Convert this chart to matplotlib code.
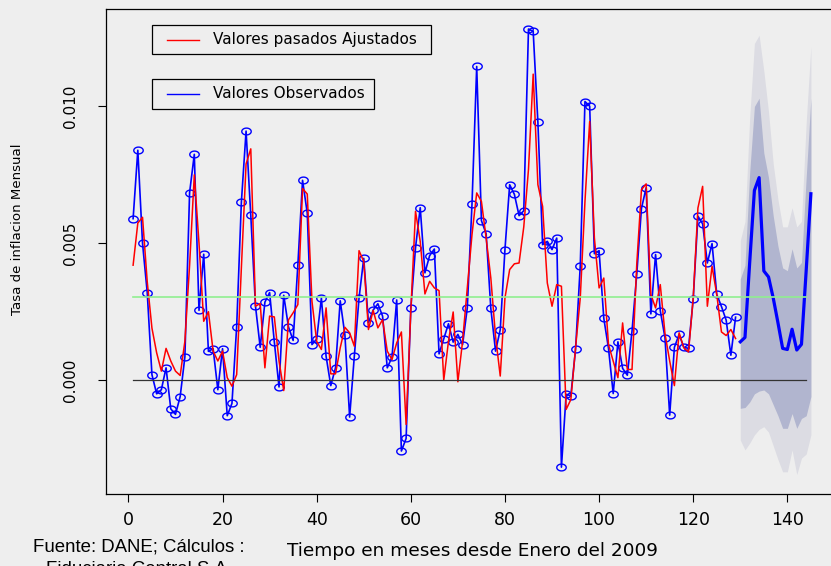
import numpy as np
import matplotlib
matplotlib.use("Agg")
import matplotlib.pyplot as plt
from matplotlib.patches import Rectangle
from matplotlib.lines import Line2D
from matplotlib.path import Path

# ---------------- data (thousandths) ----------------
observed = [5.9, 8.4, 5.0, 3.2, 0.2, -0.5, -0.35, 0.45, -1.05, -1.25,
            -0.6, 0.85, 6.85, 8.25, 2.55, 4.6, 1.05, 1.15, -0.35, 1.15,
            -1.3, -0.85, 1.95, 6.5, 9.1, 6.02, 2.7, 1.2, 2.85, 3.2,
            1.4, -0.25, 3.1, 1.95, 1.45, 4.2, 7.3, 6.1, 1.3, 1.5,
            3.0, 0.87, -0.2, 0.45, 2.9, 1.65, -1.35, 0.88, 3.0, 4.45,
            2.1, 2.56, 2.79, 2.34, 0.45, 0.84, 2.93, -2.59, -2.13, 2.62,
            4.84, 6.3, 3.92, 4.55, 4.79, 0.96, 1.51, 2.06, 1.39, 1.67,
            1.3, 2.64, 6.44, 11.46, 5.83, 5.35, 2.62, 1.06, 1.84, 4.77,
            7.14, 6.79, 6.01, 6.19, 12.83, 12.74, 9.42, 4.95, 5.07, 4.77,
            5.19, -3.18, -0.52, -0.57, 1.12, 4.17, 10.18, 10.01, 4.62, 4.73,
            2.26, 1.16, -0.49, 1.4, 0.43, 0.18, 1.8, 3.86, 6.27, 7.03,
            2.42, 4.59, 2.54, 1.55, -1.28, 1.2, 1.67, 1.2, 1.16, 2.97,
            5.99, 5.71, 4.28, 4.99, 3.13, 2.69, 2.19, 0.91, 2.3]

fitted = [4.2, 5.74, 5.95, 3.6, 1.9, 1.0, 0.33, 1.16, 0.7, 0.33,
          0.17, 1.42, 4.2, 7.5, 5.0, 2.15, 2.5, 1.06, 0.7, 1.06,
          0.09, -0.22, 0.2, 4.1, 7.9, 8.45, 2.7, 2.8, 0.45, 2.34,
          2.31, 0.7, -0.38, 2.2, 2.46, 2.76, 7.0, 6.8, 2.88, 1.42,
          1.12, 2.64, 0.23, 0.23, 1.18, 1.93, 1.73, 1.24, 4.73, 4.34,
          1.85, 2.55, 1.91, 2.21, 1.06, 0.75, 1.36, 1.76, -1.62, 2.52,
          6.17, 5.07, 3.15, 3.61, 3.37, 3.27, 0.0, 1.42, 2.49, -0.06,
          1.42, 3.37, 5.32, 6.84, 6.53, 5.2, 3.73, 1.6, 0.15, 3.0,
          4.04, 4.25, 4.28, 5.6, 7.7, 11.18, 7.14, 6.35, 3.55, 2.7,
          3.49, 3.43, -1.07, -0.71, 1.18, 3.0, 6.53, 9.45, 5.2, 3.37,
          3.73, 1.3, 0.69, 0.09, 2.09, 0.39, 0.39, 4.22, 6.96, 7.17,
          3.13, 2.64, 3.49, 1.7, 0.7, -0.2, 1.73, 1.18, 1.03, 3.0,
          6.29, 7.08, 2.7, 4.16, 3.13, 1.76, 1.63, 1.85, 1.52]

fc_mean = [1.4, 1.56, 4.3, 6.93, 7.4, 3.99, 3.77, 3.0, 2.1, 1.16, 1.12, 1.86, 1.1, 1.31, 4.0, 6.81]
hi80 = [3.7, 4.2, 7.6, 10.0, 10.3, 8.3, 7.4, 6.0, 4.9, 4.1, 4.0, 4.8, 4.1, 4.3, 7.4, 10.3]
lo80 = [-1.03, -1.0, -0.8, -0.5, -0.4, -0.36, -0.5, -0.9, -1.3, -1.76, -1.76, -1.22, -1.76, -1.4, -1.3, -0.6]
hi95 = [5.1, 5.8, 9.6, 12.3, 12.6, 11.3, 9.8, 7.9, 6.6, 5.6, 5.6, 6.3, 5.6, 5.8, 9.4, 12.2]
lo95 = [-2.19, -2.55, -2.3, -2.0, -1.8, -1.7, -1.9, -2.4, -2.9, -3.35, -3.35, -2.55, -3.45, -2.85, -2.7, -2.0]

mean_level = 3.04      # thousandths
ref_end = 144          # reference lines span t = 1 .. 144

xticks = [0, 20, 40, 60, 80, 100, 120, 140]
yticks = [0.0, 0.005, 0.010]

scale = 1e-3
obs = np.array(observed) * scale
fit = np.array(fitted) * scale
fm = np.array(fc_mean) * scale
h80 = np.array(hi80) * scale
l80 = np.array(lo80) * scale
h95 = np.array(hi95) * scale
l95 = np.array(lo95) * scale
t_obs = np.arange(1, len(obs) + 1)
t_fc = np.arange(len(obs) + 1, len(obs) + 1 + len(fm))
t_ref = np.arange(1, ref_end + 1)

# ---------------- figure ----------------
BG = "#eeeeee"
W, H = 831, 566
plt.rcParams["font.family"] = ["DejaVu Sans"]
fig = plt.figure(figsize=(W / 100, H / 100), dpi=100, facecolor=BG)


def box(x0, y0, x1, y1):
    return [x0 / W, 1 - y1 / H, (x1 - x0) / W, (y1 - y0) / H]


ax = fig.add_axes(box(106, 9, 838, 494))
ax.set_facecolor(BG)

ax.fill_between(t_fc, l95, h95, color="#dcdce3", lw=0, zorder=1)
ax.fill_between(t_fc, l80, h80, color="#b1b5cf", lw=0, zorder=2)

theta = np.linspace(0, 2 * np.pi, 60)
ell = Path(np.column_stack([np.cos(theta), 0.72 * np.sin(theta)]), closed=True)

ax.plot(t_obs, obs, color="#0000ff", lw=1.2, zorder=3)
ax.plot(t_obs, obs, ls="none", marker=ell, ms=6.8, mfc="none", mec="#0000ff",
        mew=1.0, zorder=4)
ax.plot(t_obs, fit, color="#ff0000", lw=1.1, zorder=5)
ax.plot(t_fc, fm, color="#0000ff", lw=2.3, zorder=6)
ax.plot(t_ref, np.zeros(len(t_ref)), color="#333333", lw=0.9, zorder=7)
ax.plot(t_ref, np.full(len(t_ref), mean_level * scale), color="#90ee90", lw=1.2, zorder=7)

ax.set_xlim(-4.76, 150.76)
ax.set_ylim(-0.00416, 0.01356)
ax.set_xticks(xticks)
ax.set_yticks(yticks)
ax.set_yticklabels(["%.3f" % v for v in yticks])
for s in ax.spines.values():
    s.set_color("black")
    s.set_linewidth(0.9)
ax.spines["right"].set_visible(False)
ax.tick_params(axis="x", direction="out", length=6, width=0.8, labelsize=12.5, pad=6)
ax.tick_params(axis="y", direction="out", length=6, width=0.8, labelsize=11, pad=14)
for lab in ax.get_yticklabels():
    lab.set_rotation(90)
    lab.set_va("center")

ax.set_xlabel("Tiempo en meses desde Enero del 2009", fontsize=13.3)
ax.xaxis.set_label_coords(0.5, -0.098)
ax.set_ylabel("Tasa de inflacion Mensual", fontsize=9.6)
ax.yaxis.set_label_coords(-0.112, 0.545)

# ---------------- legends ----------------
def legend_box(x0, y0, x1, y1, color, text):
    fig.patches.append(Rectangle((x0 / W, 1 - y1 / H), (x1 - x0) / W, (y1 - y0) / H,
                                 transform=fig.transFigure, facecolor=BG,
                                 edgecolor="black", lw=0.9, zorder=10))
    yc = (y0 + y1) / 2
    fig.lines.append(Line2D([167 / W, 199 / W], [1 - yc / H, 1 - yc / H],
                            transform=fig.transFigure, color=color, lw=1.0, zorder=11))
    fig.text(213 / W, 1 - yc / H, text, ha="left", va="center", fontsize=11, zorder=11)


legend_box(152, 25, 431, 54, "#ff0000", "Valores pasados Ajustados")
legend_box(152, 79, 374, 109, "#0000ff", "Valores Observados")

src_font = ["Liberation Sans", "DejaVu Sans"]
fig.text(139 / W, 1 - 547 / H, "Fuente: DANE; Cálculos :", ha="center", va="center",
         fontsize=13.4, family=src_font)
fig.text(139 / W, 1 - 570 / H, "Fiduciaria Central S.A.", ha="center", va="center",
         fontsize=13.4, family=src_font)

fig.savefig("out.png", dpi=100, facecolor=BG)
